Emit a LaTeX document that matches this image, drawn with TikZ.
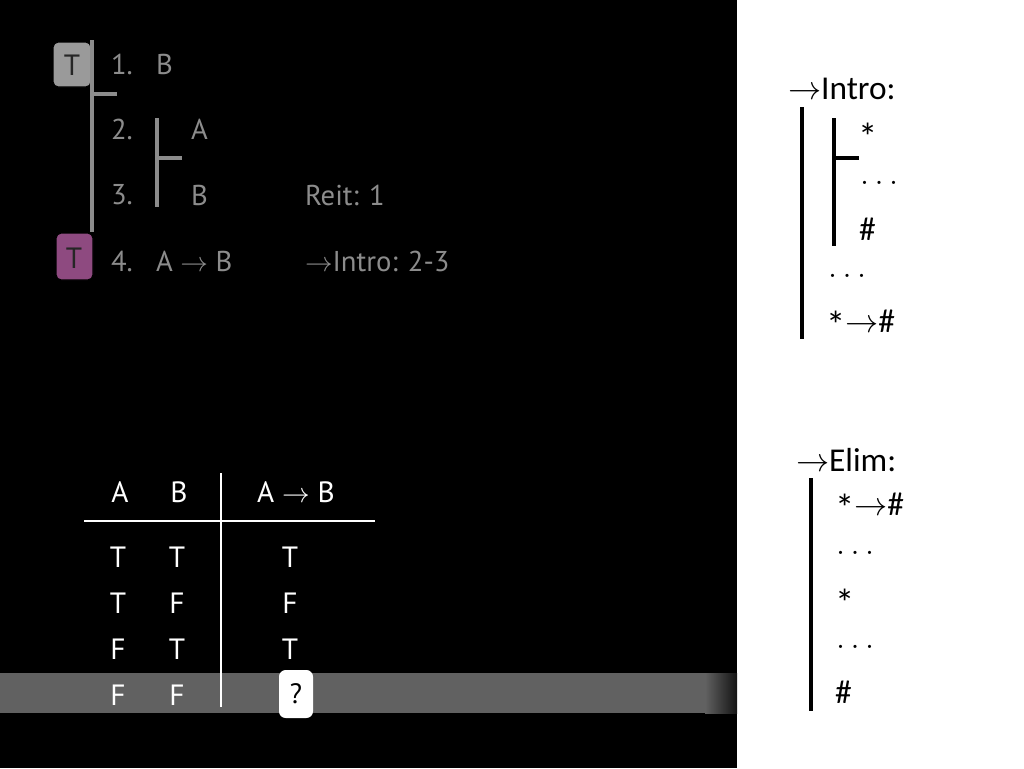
\documentclass[tikz,border=0pt]{standalone}
\usepackage{fontspec}
\setmainfont{PT Sans}
\newfontfamily\rfont{Carlito}
\newcommand{\bigast}{\raisebox{-5pt}[14pt][0pt]{\fontsize{29}{27}\selectfont *}}
\begin{document}
\begin{tikzpicture}[x=0.75pt,y=-0.75pt,
  every node/.style={inner sep=0pt,outer sep=0pt},
  prooftxt/.style={text=proofgray,font=\fontsize{21.5}{23}\selectfont,anchor=west},
  tabtxt/.style={text=white,font=\fontsize{22}{24}\selectfont},
  rtxt/.style={text=black,font=\rfont\fontsize{25}{27}\selectfont,anchor=west},
  proofline/.style={draw=proofgray,line width=3pt},
  barline/.style={draw=black,line width=3.5pt},
  tabline/.style={draw=white,line width=1.5pt},
  tbox/.style={rounded corners=4pt,draw=black,line width=0.8pt}]
\definecolor{proofgray}{HTML}{8C8C8C}
\definecolor{boxgray}{HTML}{9A9A9A}
\definecolor{boxpurple}{HTML}{8E4A80}
\definecolor{bargray}{HTML}{616161}
\useasboundingbox (0,0) rectangle (1024,768);
% backgrounds
\fill[black] (0,0) rectangle (737,768);
\fill[white] (737,0) rectangle (1024,768);
\fill[bargray] (0,673) rectangle (705,713);
\shade[left color=bargray,right color=black!80!bargray] (705,673) rectangle (737,713);
% proof
\draw[tbox,fill=boxgray] (53,42) rectangle (91,87);
\node[text=black!85,font=\fontsize{22}{24}\selectfont] (t1) at (72,65) {T};
\draw[tbox,fill=boxpurple] (56,233) rectangle (93,280);
\node[text=black!85,font=\fontsize{22}{24}\selectfont] (t4) at (74,258) {T};
\coordinate (m1) at (92,40);
\coordinate (m2) at (92,232);
\coordinate (mt) at (117,94);
\draw[proofline] (m1) -- (m2);
\draw[proofline] (92,94) -- (mt);
\coordinate (s1) at (157,118);
\coordinate (s2) at (157,207);
\coordinate (st) at (182,158);
\draw[proofline] (s1) -- (s2);
\draw[proofline] (157,158) -- (st);
\node[prooftxt] (n1) at (111,64) {1.};
\node[prooftxt] (f1) at (156,64) {B};
\node[prooftxt] (n2) at (111,129) {2.};
\node[prooftxt] (f2) at (191,129) {A};
\node[prooftxt] (n3) at (111,195) {3.};
\node[prooftxt] (f3) at (191,195) {B};
\node[prooftxt] (j3) at (305,195) {Reit: 1};
\node[prooftxt] (n4) at (111,261) {4.};
\node[prooftxt] (f4) at (156,261) {A $\rightarrow$ B};
\node[prooftxt] (j4) at (305,261) {$\rightarrow$Intro: 2-3};
% truth table
\coordinate (h1) at (84,521);
\coordinate (h2) at (375,521);
\coordinate (v1) at (221,473);
\coordinate (v2) at (221,707);
\draw[tabline] (h1) -- (h2);
\draw[tabline] (v1) -- (v2);
\node[tabtxt] (ha) at (120,492) {A};
\node[tabtxt] (hb) at (179,492) {B};
\node[tabtxt] (hab) at (296,492) {A $\rightarrow$ B};
\node[tabtxt] (r1a) at (118,557) {T};
\node[tabtxt] (r1b) at (177,557) {T};
\node[tabtxt] (r1c) at (290,557) {T};
\node[tabtxt] (r2a) at (118,603) {T};
\node[tabtxt] (r2b) at (177,603) {F};
\node[tabtxt] (r2c) at (290,603) {F};
\node[tabtxt] (r3a) at (118,649) {F};
\node[tabtxt] (r3b) at (177,649) {T};
\node[tabtxt] (r3c) at (290,649) {T};
\node[tabtxt] (r4a) at (118,695) {F};
\node[tabtxt] (r4b) at (177,695) {F};
\fill[white,rounded corners=5pt] (279,670) rectangle (313,718);
\node[text=black,font=\fontsize{21}{23}\selectfont] (q) at (296,694) {?};
% right panel: intro
\node[rtxt] (ti) at (788,89) {$\rightarrow$Intro:};
\coordinate (o1) at (802,107);
\coordinate (o2) at (802,339);
\draw[barline] (o1) -- (o2);
\coordinate (i1) at (834,118);
\coordinate (i2) at (834,246);
\coordinate (it) at (859,158);
\draw[barline] (i1) -- (i2);
\draw[barline] (834,158) -- (it);
\node[rtxt,anchor=base west] (ia) at (858,144) {\bigast};
\node[rtxt] (ib) at (860,183) {$\ldots$};
\node[rtxt] (ic) at (859,229) {\#};
\node[rtxt] (id) at (828,276) {$\ldots$};
\node[rtxt,anchor=base west] (ie) at (826,332) {\bigast$\rightarrow$\#};
% right panel: elim
\node[rtxt] (te) at (796,460) {$\rightarrow$Elim:};
\coordinate (e1) at (811,478);
\coordinate (e2) at (811,711);
\draw[barline] (e1) -- (e2);
\node[rtxt,anchor=base west] (ea) at (835,515) {\bigast$\rightarrow$\#};
\node[rtxt] (eb) at (836,553) {$\ldots$};
\node[rtxt,anchor=base west] (ec) at (835,610) {\bigast};
\node[rtxt] (ed) at (836,647) {$\ldots$};
\node[rtxt] (ef) at (835,692) {\#};
\end{tikzpicture}
\end{document}
